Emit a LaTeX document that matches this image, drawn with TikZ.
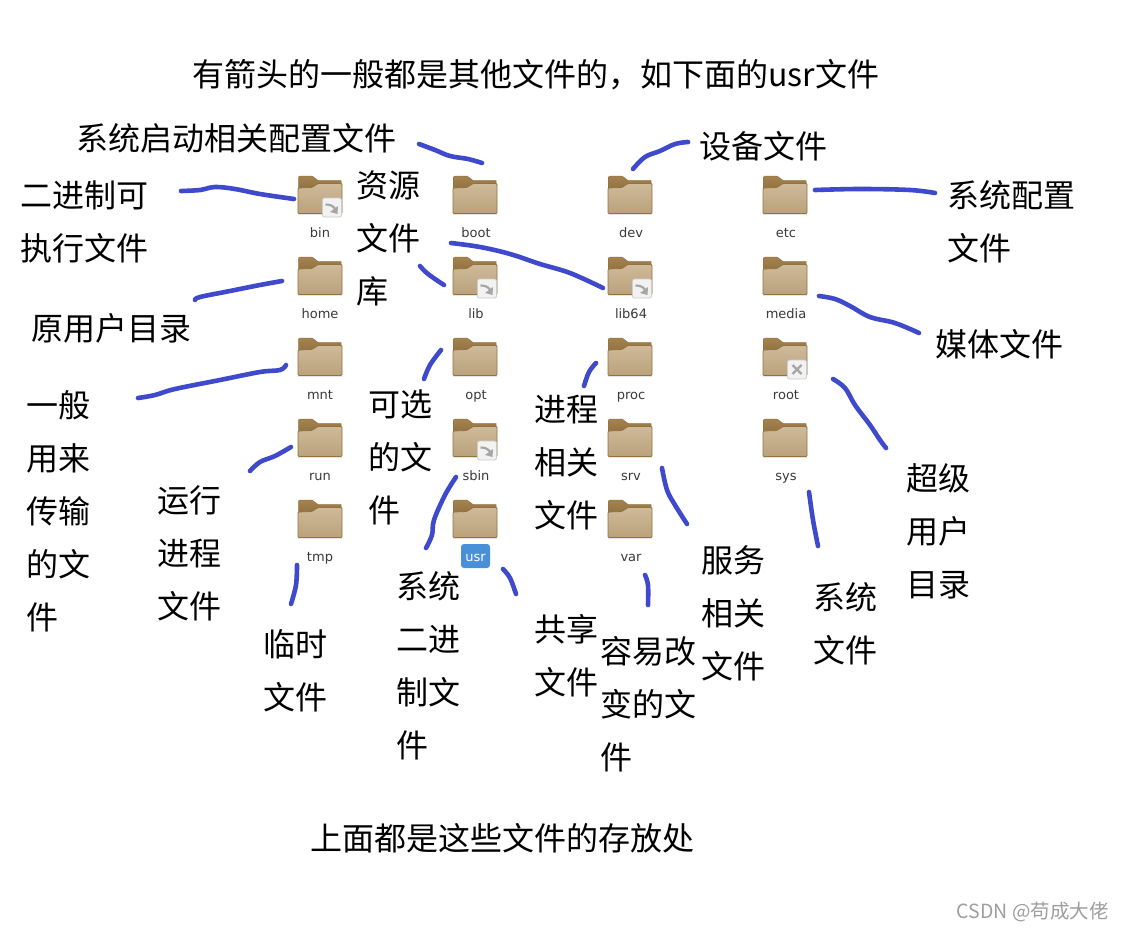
\documentclass[tikz,border=0pt]{standalone}
\usepackage{fontspec}
\setmainfont{Noto Sans CJK SC}
\newfontfamily\labelfont{DejaVu Sans}
\definecolor{strokeblue}{HTML}{3F49CC}
\definecolor{tabtop}{HTML}{A5834F}
\definecolor{tabbottom}{HTML}{8A6A3C}
\definecolor{edgebrown}{HTML}{94723F}
\definecolor{panellight}{HTML}{CFBA99}
\definecolor{paneldark}{HTML}{B9A27C}
\definecolor{labelgrey}{HTML}{3A3A3A}
\definecolor{usrblue}{HTML}{4A90D9}
\tikzset{
  x=1pt,y=-1pt,
  cntext/.style={anchor=north west,inner sep=0pt,align=left,font=\fontsize{32}{53}\selectfont},
  flabel/.style={anchor=base,inner sep=0pt,text=labelgrey,font=\labelfont\fontsize{13}{15}\selectfont},
  stroke/.style={draw=strokeblue,line width=4.6pt,line cap=round,line join=round},
  badgebox/.style={draw=black!20,fill=white!95!black,line width=.8pt,rounded corners=2pt},
  badgemark/.style={draw=black!35,line width=2.2pt},
  folder/.pic={
    \path[top color=tabtop,bottom color=tabbottom,draw=edgebrown,line width=.5pt] (0.5,18) -- (0.5,1) .. controls (0.5,0.3) and (1,0) .. (2,0) -- (14,0) -- (20,4.5) -- (43,4.5) -- (43.5,18) -- cycle;
    \path[draw=edgebrown,line width=.8pt,top color=panellight,bottom color=paneldark,rounded corners=1pt]
      (0,12) -- (14,11.5) -- (20,7.5) -- (44,7.5) -- (44,37.5) -- (0,37.5) -- cycle;
    \fill[black!10] (0,37.9) rectangle (44,39);
  },
  linkbadge/.pic={
    \draw[badgebox] (0,0) rectangle (19,19);
    \draw[badgemark] (3,6.5) .. controls (7,6.5) and (10,7.5) .. (12.5,10.5);
    \fill[black!35] (15.5,8) -- (15,16) -- (7.5,14) -- cycle;
  },
  crossbadge/.pic={
    \draw[badgebox] (0,0) rectangle (19,19);
    \draw[badgemark] (5,5) -- (14,14) (14,5) -- (5,14);
  },
}
\begin{document}
\begin{tikzpicture}
\useasboundingbox[fill=white] (0,0) rectangle (1124,931);

% folders
\foreach \nm/\fx/\fy in {bin/298/176,boot/453/176,dev/608/176,etc/763/176,
  home/298/257,lib/453/257,libsf/608/257,media/763/257,
  mnt/298/338,opt/453/338,proc/608/338,root/763/338,
  run/298/419,sbin/453/419,srv/608/419,sys/763/419,
  tmp/298/500,usr/453/500,var/608/500}
  {\pic (f\nm) at (\fx,\fy) {folder};}

% badges
\pic at (322.5,198) {linkbadge};
\pic at (477.5,279) {linkbadge};
\pic at (632.5,279) {linkbadge};
\pic at (477.5,441) {linkbadge};
\pic at (787.5,360) {crossbadge};

% folder labels
\node[flabel] (lbin) at (320,237) {bin};
\node[flabel] (lboot) at (476,237) {boot};
\node[flabel] (ldev) at (631,237) {dev};
\node[flabel] (letc) at (786,237) {etc};
\node[flabel] (lhome) at (320,318) {home};
\node[flabel] (llib) at (476,318) {lib};
\node[flabel] (llibsf) at (631,318) {lib64};
\node[flabel] (lmedia) at (786,318) {media};
\node[flabel] (lmnt) at (320,399) {mnt};
\node[flabel] (lopt) at (476,399) {opt};
\node[flabel] (lproc) at (631,399) {proc};
\node[flabel] (lroot) at (786,399) {root};
\node[flabel] (lrun) at (320,480) {run};
\node[flabel] (lsbin) at (476,480) {sbin};
\node[flabel] (lsrv) at (631,480) {srv};
\node[flabel] (lsys) at (786,480) {sys};
\node[flabel] (ltmp) at (320,561) {tmp};
\fill[usrblue,rounded corners=3pt] (461,544) rectangle (490,568);
\node[flabel,text=white] (lusr) at (475.5,561) {usr};
\node[flabel] (lvar) at (631,561) {var};

% handwritten labels
\node[cntext] (title) at (192,59) {有箭头的一般都是其他文件的，如下面的usr文件};
\node[cntext] (tboot) at (76,123) {系统启动相关配置文件};
\node[cntext] (tbin) at (20,181) {二进制可\\执行文件};
\node[cntext] (tlibs) at (356,171) {资源\\文件\\库};
\node[cntext] (tdev) at (699,131) {设备文件};
\node[cntext] (tetc) at (947,180) {系统配置\\文件};
\node[cntext] (thome) at (31,313) {原用户目录};
\node[cntext] (tmedia) at (935,329) {媒体文件};
\node[cntext] (tmnt) at (26,390) {一般\\用来\\传输\\的文\\件};
\node[cntext] (topt) at (368,390) {可选\\的文\\件};
\node[cntext] (tproc) at (534,395) {进程\\相关\\文件};
\node[cntext] (troot) at (906,463) {超级\\用户\\目录};
\node[cntext] (trun) at (157,485) {运行\\进程\\文件};
\node[cntext] (tsbin) at (396,571) {系统\\二进\\制文\\件};
\node[cntext] (tsrv) at (701,545) {服务\\相关\\文件};
\node[cntext] (tsys) at (813,582) {系统\\文件};
\node[cntext] (ttmp) at (263,629) {临时\\文件};
\node[cntext] (tusr) at (534,614) {共享\\文件};
\node[cntext] (tvar) at (600,636) {容易改\\变的文\\件};
\node[cntext] (tfoot) at (310,823) {上面都是这些文件的存放处};
\node[anchor=east,inner sep=0pt,text=black!38,font=\fontsize{19.5}{24}\selectfont] (wm) at (1109,912) {CSDN @苟成大佬};

% hand-drawn strokes
\draw[stroke] plot[smooth,tension=.6] coordinates {(419,144) (435,150) (450,156) (468,159) (482,163)};
\draw[stroke] plot[smooth,tension=.6] coordinates {(181,191) (200,190) (215,187) (235,189) (260,194) (294,199)};
\draw[stroke] plot[smooth,tension=.6] coordinates {(633,169) (645,157) (660,151) (675,144) (688,142)};
\draw[stroke] plot[smooth,tension=.6] coordinates {(815,190) (860,189) (910,190) (935,193)};
\draw[stroke] plot[smooth,tension=.6] coordinates {(451,243) (480,247) (510,254) (540,264) (570,273) (603,288)};
\draw[stroke] plot[smooth,tension=.6] coordinates {(420,266) (428,274) (444,285)};
\draw[stroke] plot[smooth,tension=.6] coordinates {(195,300) (200,297) (230,291) (260,285) (282,281)};
\draw[stroke] plot[smooth,tension=.6] coordinates {(819,296) (835,299) (850,306) (870,317) (895,323) (919,333)};
\draw[stroke] plot[smooth,tension=.6] coordinates {(138,398) (155,395) (175,389) (220,380) (260,372) (280,370) (286,365)};
\draw[stroke] plot[smooth,tension=.6] coordinates {(424,379) (430,365) (441,350)};
\draw[stroke] plot[smooth,tension=.6] coordinates {(584,386) (589,372) (596,363)};
\draw[stroke] plot[smooth,tension=.6] coordinates {(833,379) (845,388) (855,405) (870,425) (880,440) (886,448)};
\draw[stroke] plot[smooth,tension=.6] coordinates {(250,471) (260,462) (275,456) (291,447)};
\draw[stroke] plot[smooth,tension=.6] coordinates {(662,468) (667,490) (675,505) (687,524)};
\draw[stroke] plot[smooth,tension=.6] coordinates {(809,492) (813,520) (818,546)};
\draw[stroke] plot[smooth,tension=.6] coordinates {(456,477) (445,495) (434,520) (432,535) (426,548)};
\draw[stroke] plot[smooth,tension=.6] coordinates {(503,569) (510,578) (516,594)};
\draw[stroke] plot[smooth,tension=.6] coordinates {(645,575) (648,585) (648,605)};
\draw[stroke] plot[smooth,tension=.6] coordinates {(297,565) (296,585) (291,604)};
\end{tikzpicture}
\end{document}
